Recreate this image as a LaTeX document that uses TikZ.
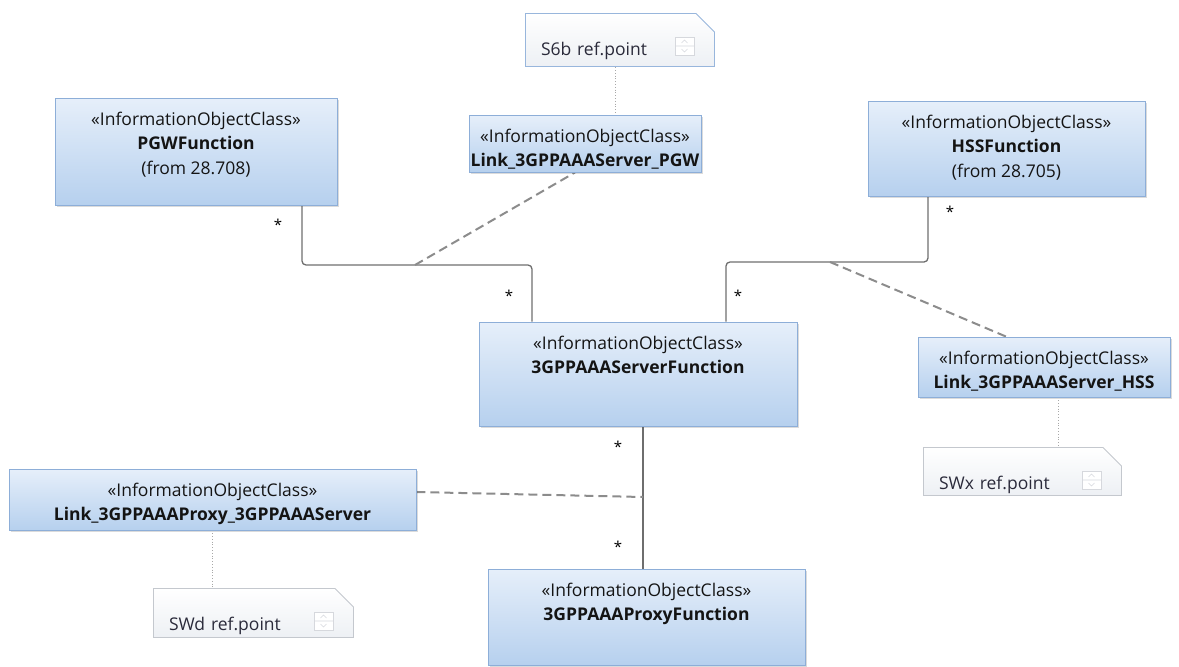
\documentclass[tikz,border=0pt]{standalone}
\usepackage{fontspec}
\setmainfont{Open Sans}
\usetikzlibrary{shadows}
\pgfdeclarelayer{bg}
\pgfsetlayers{bg,main}

\definecolor{iocedge}{HTML}{8DAED8}
\definecolor{ioctop}{HTML}{E6EFFA}
\definecolor{iocbot}{HTML}{B6D0EE}
\definecolor{iocname}{HTML}{141414}
\definecolor{notegray}{HTML}{C4C8CE}
\definecolor{noteblue}{HTML}{98B6DC}
\definecolor{notebot}{HTML}{EDF0F4}
\definecolor{notetext}{HTML}{2A2A3A}
\definecolor{assocline}{HTML}{6E6E6E}
\definecolor{linkline}{HTML}{8C8C8C}
\definecolor{anchline}{HTML}{A8A8A8}

\newcommand\ioctext{\centering\fontsize{17.5}{24.5}\selectfont\vspace*{14pt}}
\newcommand\notefont{\fontsize{17.5}{20}\selectfont}

\tikzset{
  ioc/.style={draw=iocedge, line width=0.9pt, top color=ioctop, bottom color=iocbot,
    inner sep=0pt, text=iocname,
    drop shadow={shadow xshift=1.5pt, shadow yshift=-1.5pt, opacity=0.2, fill=black!70}},
  note edge/.store in=\noteedge, note edge=notegray,
  refnote/.style={inner xsep=16pt, inner ysep=0pt, text height=42pt, align=left,
    text=notetext, font=\notefont,
    path picture={
      \coordinate (ne) at (path picture bounding box.north east);
      \shadedraw [top color=white, bottom color=notebot, draw=\noteedge, line width=0.9pt]
        ([shift={(0.5pt,-0.5pt)}]path picture bounding box.north west)
        -- ([shift={(-19pt,-0.5pt)}]ne) -- ([shift={(-0.5pt,-19pt)}]ne)
        -- ([shift={(-0.5pt,0.5pt)}]path picture bounding box.south east)
        -- ([shift={(0.5pt,0.5pt)}]path picture bounding box.south west) -- cycle;
      \draw [notegray!70, fill=white, line width=0.6pt]
        ([shift={(-40pt,-24pt)}]ne) rectangle ([shift={(-21pt,-42pt)}]ne);
      \draw [notegray!70, line width=0.6pt]
        ([shift={(-40pt,-33pt)}]ne) -- ([shift={(-21pt,-33pt)}]ne)
        ([shift={(-33.5pt,-30pt)}]ne) -- ([shift={(-30.5pt,-27pt)}]ne) -- ([shift={(-27.5pt,-30pt)}]ne)
        ([shift={(-33.5pt,-36pt)}]ne) -- ([shift={(-30.5pt,-39pt)}]ne) -- ([shift={(-27.5pt,-36pt)}]ne);
    }},
  assoc/.style={draw=assocline, line width=1.3pt, rounded corners=4pt},
  linkcls/.style={draw=linkline, line width=2pt, dash pattern=on 9pt off 5pt},
  anchor line/.style={draw=anchline, line width=0.8pt, dotted},
  mult/.style={inner sep=0pt, font=\fontsize{15}{15}\selectfont}
}

\begin{document}
\begin{tikzpicture}[x=1pt, y=-1pt]
        \useasboundingbox (0,0) rectangle (1179,667);
        \node (pgw) [ioc] at (196,151.5) {\parbox[c][107pt][t]{282pt}{\ioctext
                «InformationObjectClass»\\\textbf{PGWFunction}\\(from 28.708)}};
        \node (hss) [ioc] at (1006.5,148.5) {\parbox[c][95pt][t]{277pt}{\ioctext
                «InformationObjectClass»\\\textbf{HSSFunction}\\(from 28.705)}};
        \node (lpgw) [ioc] at (585,143.5) {\parbox[c][57pt][t]{232pt}{\ioctext
                «InformationObjectClass»\\\textbf{Link\_3GPPAAAServer\_PGW}}};
        \node (srv) [ioc] at (638,374) {\parbox[c][104pt][t]{318pt}{\ioctext
                «InformationObjectClass»\\\textbf{3GPPAAAServerFunction}}};
        \node (lhss) [ioc] at (1044,367) {\parbox[c][60pt][t]{252pt}{\ioctext
                «InformationObjectClass»\\\textbf{Link\_3GPPAAAServer\_HSS}}};
        \node (lprx) [ioc] at (212.5,499.5) {\parbox[c][61pt][t]{407pt}{\ioctext
                «InformationObjectClass»\\\textbf{Link\_3GPPAAAProxy\_3GPPAAAServer}}};
        \node (prx) [ioc] at (646.5,617) {\parbox[c][96pt][t]{317pt}{\ioctext
                «InformationObjectClass»\\\textbf{3GPPAAAProxyFunction}}};
        \node (s6b) [refnote, note edge=noteblue, text width=158pt, text depth=12pt] at (620,40) {S6b ref.point};
        \node (swx) [refnote, text width=167pt, text depth=7pt] at (1022.5,471.5) {SWx ref.point};
        \node (swd) [refnote, text width=169pt, text depth=8pt] at (253.5,613) {SWd ref.point};
        \node (m1) [mult] at (278,225) {*};
        \node (m2) [mult] at (509,296) {*};
        \node (m3) [mult] at (950,212) {*};
        \node (m4) [mult] at (738,296) {*};
        \node (m5) [mult] at (618,447) {*};
        \node (m6) [mult] at (618,547) {*};
        \coordinate (pgwsrv) at (415,265);
        \coordinate (hsssrv) at (830,262);
        \coordinate (srvprx) at (643,497);
        \begin{pgfonlayer}{bg}
                \draw [assoc] ([xshift=106pt]pgw.south) |- (pgwsrv) -| ([xshift=-106pt]srv.north);
                \draw [assoc] ([xshift=-78.5pt]hss.south) |- (hsssrv) -| ([xshift=88pt]srv.north);
                \draw [assoc] (srv.south -| srvprx) -- (srvprx) -- (prx.north -| srvprx);
                \draw [linkcls] (pgwsrv) -- ([xshift=-10pt]lpgw.south);
                \draw [linkcls] (hsssrv) -- ([xshift=-38pt]lhss.north);
                \draw [linkcls] ([yshift=7.5pt]lprx.east) -- (srvprx);
                \draw [anchor line] ([xshift=-5pt]s6b.south) -- ([xshift=-5pt]s6b.south |- lpgw.north);
                \draw [anchor line] ([xshift=14pt]lhss.south) -- ([xshift=14pt]lhss.south |- swx.north);
                \draw [anchor line] (lprx.south) -- (lprx.south |- swd.north);
        \end{pgfonlayer}
\end{tikzpicture}
\end{document}
